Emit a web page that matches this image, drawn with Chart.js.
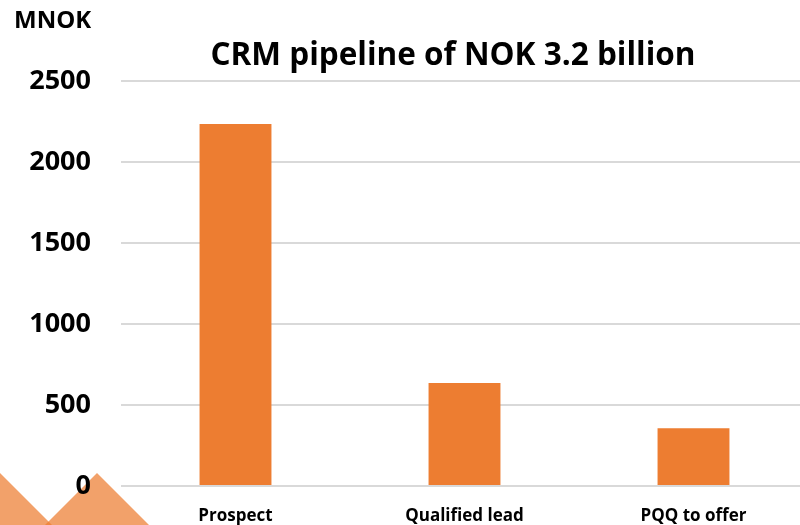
<!DOCTYPE html>
<html>
<head>
<meta charset="utf-8">
<script src="https://cdn.jsdelivr.net/npm/chart.js@4.4.1/dist/chart.umd.min.js"></script>
<style>
  html, body { margin: 0; padding: 0; background: #fff; overflow: hidden; }
  #wrap { position: relative; width: 800px; height: 525px; overflow: hidden; }
  #c { position: absolute; left: 0; top: 0; }
  .t { position: absolute; font-family: "Open Sans", sans-serif; font-weight: 700; color: #000; white-space: nowrap; line-height: normal; }
  #title { left: 153px; width: 600px; text-align: center; top: 31px; font-size: 31.5px; }
  #unit { left: 14px; top: 2px; font-size: 24px; }
</style>
</head>
<body>
<div id="wrap">
  <canvas id="c" width="810" height="525" style="width:810px;height:525px"></canvas>
  <div class="t" id="title">CRM pipeline of NOK 3.2 billion</div>
  <div class="t" id="unit">MNOK</div>
</div>
<script>
const categories = ["Prospect", "Qualified lead", "PQQ to offer"];
const pipelineValues = [2235, 636, 356];
const yTicks = [0, 500, 1000, 1500, 2000, 2500];

const decoTriangles = {
  id: 'decoTriangles',
  beforeDraw(chart) {
    const ctx = chart.ctx;
    ctx.save();
    ctx.fillStyle = 'rgba(237,125,49,0.72)';
    const tris = [[0, 473], [97, 473]];
    for (const [ax, ay] of tris) {
      ctx.beginPath();
      ctx.moveTo(ax, ay);
      ctx.lineTo(ax + 55, ay + 55);
      ctx.lineTo(ax - 55, ay + 55);
      ctx.closePath();
      ctx.fill();
    }
    ctx.restore();
  }
};

new Chart(document.getElementById('c'), {
  type: 'bar',
  data: {
    labels: categories,
    datasets: [{
      data: pipelineValues,
      backgroundColor: '#ED7D31',
      borderWidth: 0,
      barPercentage: 1,
      categoryPercentage: 0.314
    }]
  },
  options: {
    responsive: false,
    animation: false,
    devicePixelRatio: 1,
    layout: { padding: { top: 81, right: 2, left: 0, bottom: 0 } },
    plugins: { legend: { display: false }, tooltip: { enabled: false }, title: { display: false } },
    scales: {
      x: {
        grid: { display: false, drawTicks: false },
        border: { display: false },
        ticks: {
          color: '#000',
          font: { family: 'Open Sans', weight: 'bold', size: 17 },
          padding: 20,
          maxRotation: 0
        },
        afterFit(s) { s.height = 39; s.paddingLeft = 0; s.paddingRight = 0; }
      },
      y: {
        min: 0,
        max: 2500,
        afterBuildTicks(s) { s.ticks = yTicks.map(v => ({ value: v })); },
        grid: { color: '#d9d9d9', lineWidth: 2, drawTicks: false },
        border: { display: false },
        ticks: {
          color: '#000',
          font: { family: 'Open Sans', weight: 'bold', size: 27 },
          padding: 30,
          callback: (v) => String(v)
        },
        afterFit(s) { s.width = 121; s.paddingTop = 0; s.paddingBottom = 0; }
      }
    }
  },
  plugins: [decoTriangles]
});
</script>
</body>
</html>
